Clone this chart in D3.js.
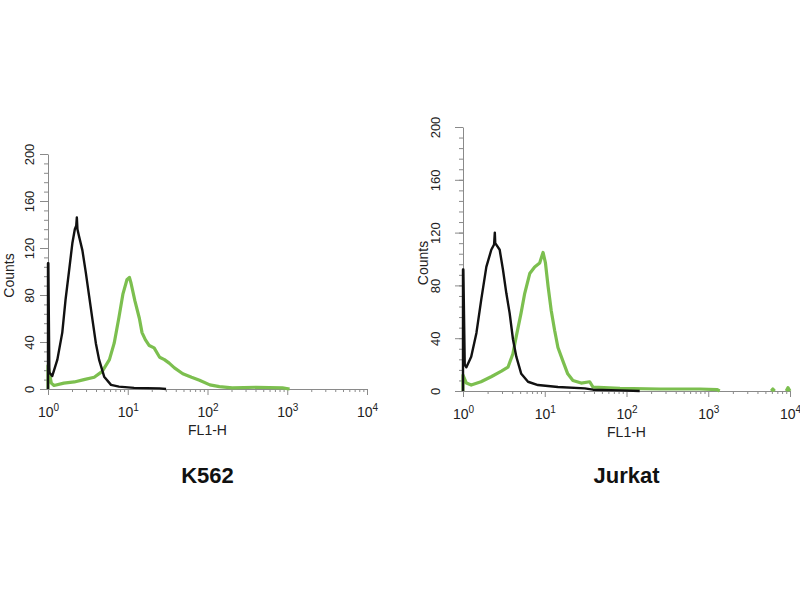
<!DOCTYPE html>
<html>
<head>
<meta charset="utf-8">
<script src="https://cdn.jsdelivr.net/npm/d3@7"></script>
<style>
    body { margin: 0; background: #fff; }
    svg { display: block; }
    .axis path, .axis line { stroke: #8a8a8a; }
    .axis text { fill: #222; font-family: "Liberation Sans", Arial, sans-serif; }
</style>
</head>
<body>
<div id="chart"></div>
<script>

// tick values for both panels
var countTicks = [0, 40, 80, 120, 160, 200];
var countMinorTicks = d3.range(0, 201, 8);
var decadeTicks = [1, 10, 100, 1000, 10000];
var decadeExponents = ["0", "1", "2", "3", "4"];

// K562 histograms: FL1-H value and counts
var k562ControlFl1 = [1.00, 1.00, 1.01, 1.04, 1.13, 1.31, 1.51, 1.66, 1.84, 2.02, 2.17, 2.26, 2.30, 2.34, 2.45, 2.70, 2.98, 3.28, 3.61, 3.98, 4.37, 5.06, 6.17, 7.76, 12.0, 25.1, 30.2];
var k562ControlCounts = [0, 107, 107, 14, 11, 25, 48, 76, 101, 124, 136, 139, 146, 136, 130, 118, 99, 79, 59, 39, 25, 10.5, 3.5, 2, 1, 0.5, 0];

var k562StainedFl1 = [1.00, 1.00, 1.10, 1.19, 1.58, 2.14, 2.82, 3.80, 4.79, 5.89, 6.76, 7.76, 8.71, 9.77, 10.5, 11.0, 12.3, 14.0, 15.1, 16.6, 18.6, 21.4, 25.1, 28.8, 33.1, 38.5, 49.0, 63.1, 79.4, 107, 141, 204, 407, 871, 1070];
var k562StainedCounts = [0, 20, 5, 3, 5, 6, 8, 10, 15, 25, 39, 61, 81, 93, 95, 90, 75, 60, 48, 42, 37, 35, 27, 25, 22, 18, 13, 10, 7.5, 3.5, 2, 1, 1.5, 1, 0];

// Jurkat histograms
var jurkatControlFl1 = [1.00, 1.00, 1.01, 1.05, 1.10, 1.26, 1.46, 1.67, 1.93, 2.22, 2.40, 2.45, 2.48, 2.81, 3.08, 3.39, 3.72, 4.09, 4.49, 5.16, 6.24, 8.26, 14.5, 30.9, 38.9, 83.2, 145];
var jurkatControlCounts = [0, 92, 92, 20, 18, 26, 44, 69, 94, 107, 111, 120, 112, 107, 92, 74, 59, 39, 26, 13, 7, 4.5, 3, 2, 1, 0.5, 0];

// null = no events drawn between the two groups
var jurkatStainedFl1 = [1.00, 1.00, 1.10, 1.26, 1.66, 2.24, 2.95, 3.55, 4.07, 4.47, 5.13, 5.69, 6.55, 7.53, 8.67, 9.53, 10.2, 11.0, 12.0, 13.2, 14.5, 16.6, 19.1, 22.1, 27.9, 35.5, 38.9, 83.2, 257, 794, 1290, 1380, null, 5900, 6170, 6500, null, 9000, 9440, 10000];
var jurkatStainedCounts = [0, 12, 6, 4.5, 7, 11, 15, 18, 28, 41, 59, 74, 89, 94, 97, 105, 97, 79, 61, 46, 33, 23, 13, 8, 6, 7, 3, 2, 1.5, 1.5, 1, 0, null, 0, 1.5, 0, null, 0, 2.5, 0];

var panels = [
    {
        title: "K562",
        control: { x: k562ControlFl1, y: k562ControlCounts },
        stained: { x: k562StainedFl1, y: k562StainedCounts },
        left: 48, right: 367, top: 154, bottom: 389,
        tickLabelOffset: 19, countsOffset: 39
    },
    {
        title: "Jurkat",
        control: { x: jurkatControlFl1, y: jurkatControlCounts },
        stained: { x: jurkatStainedFl1, y: jurkatStainedCounts },
        left: 463, right: 790, top: 127, bottom: 391,
        tickLabelOffset: 28, countsOffset: 40
    }
];

var svg = d3.select("#chart").append("svg")
    .attr("width", 800)
    .attr("height", 600);

function toPoints(series) {
    return series.x.map(function (v, i) {
        return { fl1: v, count: series.y[i] };
    });
}

function drawPanel(p) {
    var x = d3.scaleLog()
        .domain([1, 10000])
        .range([p.left, p.right]);

    var y = d3.scaleLinear()
        .domain([0, 200])
        .range([p.bottom, p.top]);

    var g = svg.append("g");

    // minor ticks on the count axis
    g.append("g")
        .attr("class", "axis")
        .attr("transform", "translate(" + p.left + ",0)")
        .call(d3.axisLeft(y).tickValues(countMinorTicks).tickSize(4).tickFormat(""))
        .call(function (a) { a.select(".domain").remove(); });

    // count axis with rotated labels
    var yAxis = g.append("g")
        .attr("class", "axis")
        .attr("transform", "translate(" + p.left + ",0)")
        .call(d3.axisLeft(y).tickValues(countTicks).tickSizeInner(8).tickSizeOuter(0));
    yAxis.selectAll(".tick text")
        .attr("x", null)
        .attr("font-size", 13)
        .attr("text-anchor", "middle")
        .attr("transform", "translate(" + (-p.tickLabelOffset) + ",0) rotate(-90)")
        .attr("dy", "0.35em");

    // minor ticks on the log axis (2..9 per decade)
    var minor = [];
    decadeTicks.slice(0, -1).forEach(function (d) {
        for (var k = 2; k < 10; k++) minor.push(d * k);
    });
    g.append("g")
        .attr("class", "axis")
        .attr("transform", "translate(0," + p.bottom + ")")
        .call(d3.axisBottom(x).tickValues(minor).tickSize(3).tickFormat(""))
        .call(function (a) { a.select(".domain").remove(); });

    var xAxis = g.append("g")
        .attr("class", "axis")
        .attr("transform", "translate(0," + p.bottom + ")")
        .call(d3.axisBottom(x).tickValues(decadeTicks).tickSizeInner(6).tickSizeOuter(0).tickFormat(""));

    // 10 with superscript exponent
    xAxis.selectAll(".tick").append("text")
        .attr("y", 28)
        .attr("font-size", 14)
        .attr("text-anchor", "middle")
        .each(function (d, i) {
            var t = d3.select(this);
            t.append("tspan").text("10");
            t.append("tspan").attr("dy", -6).attr("font-size", 10).text(decadeExponents[i]);
        });

    // histograms
    var line = d3.line()
        .defined(function (d) { return d.fl1 !== null; })
        .x(function (d) { return x(d.fl1); })
        .y(function (d) { return y(d.count); });

    g.append("path")
        .datum(toPoints(p.stained))
        .attr("fill", "none")
        .attr("stroke", "#7cbf4f")
        .attr("stroke-width", 3.2)
        .attr("stroke-linejoin", "round")
        .attr("d", line);

    g.append("path")
        .datum(toPoints(p.control))
        .attr("fill", "none")
        .attr("stroke", "#111")
        .attr("stroke-width", 2.4)
        .attr("stroke-linejoin", "round")
        .attr("d", line);

    var cx = (p.left + p.right) / 2;
    var cy = (p.top + p.bottom) / 2 + 4;

    g.append("text")
        .attr("transform", "translate(" + (p.left - p.countsOffset) + "," + cy + ") rotate(-90)")
        .attr("dy", "0.35em")
        .attr("text-anchor", "middle")
        .attr("font-family", "Liberation Sans, Arial, sans-serif")
        .attr("font-size", 14)
        .attr("fill", "#222")
        .text("Counts");

    g.append("text")
        .attr("x", cx)
        .attr("y", p.bottom + 46)
        .attr("text-anchor", "middle")
        .attr("font-family", "Liberation Sans, Arial, sans-serif")
        .attr("font-size", 14)
        .attr("fill", "#222")
        .text("FL1-H");

    g.append("text")
        .attr("x", cx)
        .attr("y", 483)
        .attr("text-anchor", "middle")
        .attr("font-family", "Liberation Sans, Arial, sans-serif")
        .attr("font-weight", "bold")
        .attr("font-size", 22)
        .attr("fill", "#111")
        .text(p.title);
}

panels.forEach(drawPanel);

</script>
</body>
</html>
